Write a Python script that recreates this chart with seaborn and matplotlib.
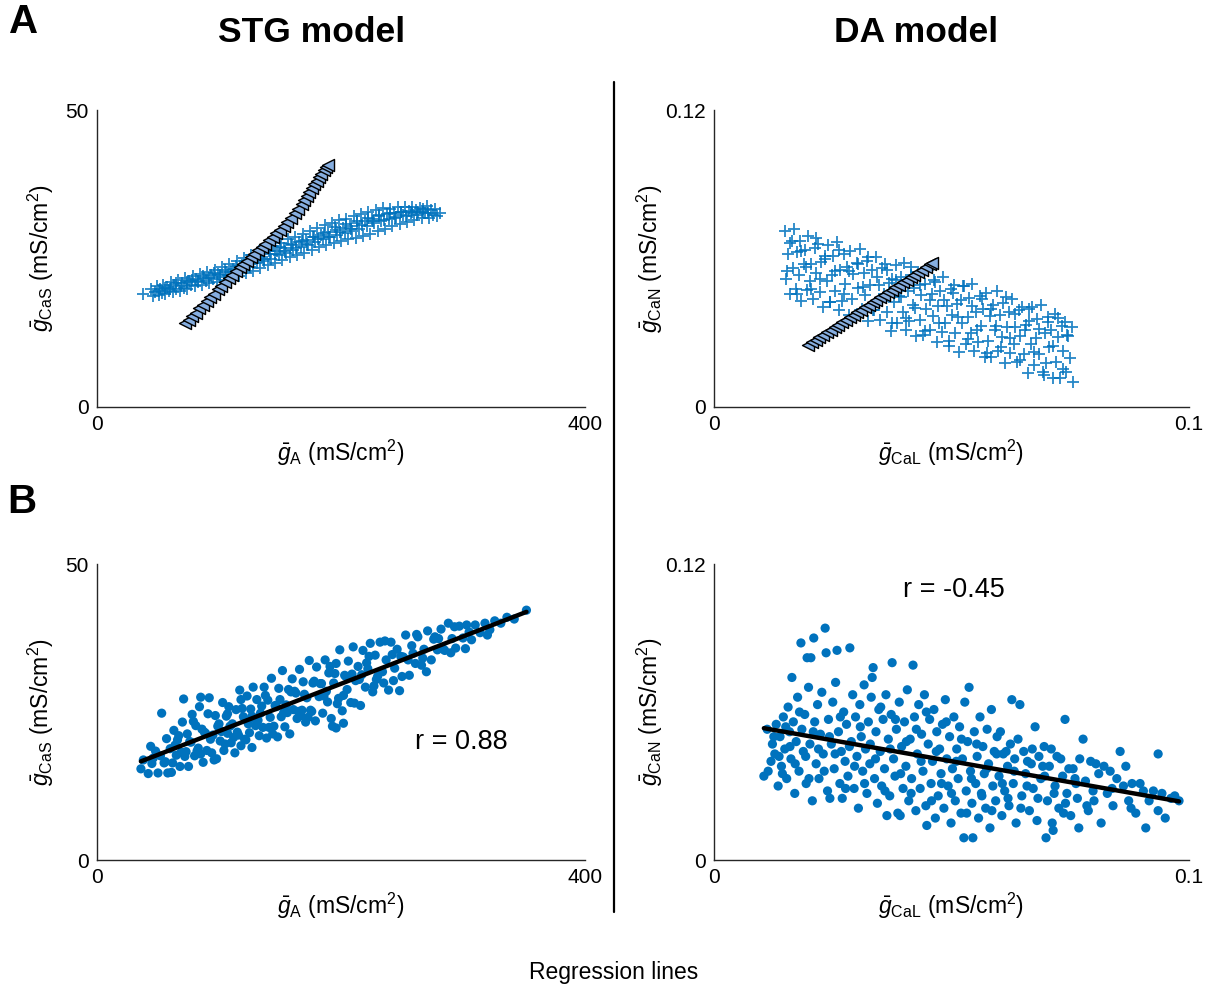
import matplotlib
matplotlib.use("Agg")
import matplotlib.pyplot as plt
import seaborn as sns
from matplotlib.lines import Line2D

# ---------------- data ----------------
# Panel A, STG model: accepted parameter sets (crosses) and degenerate family (triangles)
stg_cross_gA = [38.0, 44.5, 46.0, 47.5, 49.0, 50.5, 52.0, 53.0, 54.5, 56.0, 57.5, 59.0, 60.5, 62.0, 63.5,
                65.0, 66.5, 68.0, 69.5, 71.0, 72.5, 74.0, 75.5, 77.0, 78.5, 80.0, 81.5, 83.0, 84.5, 86.0,
                87.5, 89.0, 90.5, 92.0, 93.5, 95.0, 96.5, 98.0, 99.5, 101.0, 102.5, 104.0, 105.5, 107.0,
                108.5, 110.0, 111.5, 113.0, 114.5, 116.0, 117.5, 119.0, 120.5, 122.0, 123.5, 125.0, 126.5,
                128.0, 129.5, 131.0, 132.5, 134.0, 135.5, 137.0, 138.5, 140.0, 141.5, 143.0, 144.5, 146.0,
                147.5, 149.0, 150.5, 152.0, 153.5, 155.0, 156.5, 158.0, 159.5, 161.0, 162.5, 164.0, 165.5,
                167.0, 168.5, 170.0, 171.5, 173.0, 174.5, 176.0, 177.5, 179.0, 180.5, 182.0, 183.5, 185.0,
                186.5, 188.0, 189.5, 191.0, 192.5, 194.0, 195.5, 197.0, 198.5, 200.0, 201.5, 203.0, 204.5,
                206.0, 207.5, 209.0, 210.5, 212.0, 213.5, 215.0, 216.5, 218.0, 219.5, 221.0, 222.5, 224.0,
                225.5, 227.0, 228.5, 230.0, 231.5, 233.0, 234.5, 236.0, 237.5, 239.0, 240.5, 242.0, 243.5,
                245.0, 246.5, 248.0, 249.5, 251.0, 252.5, 254.0, 255.5, 257.0, 258.5, 260.0, 261.5, 263.0,
                264.5, 266.0, 267.5, 269.0, 270.5, 272.0, 273.5, 275.0, 277.0, 279.0, 281.0,
                51.0, 55.5, 60.0, 64.5, 69.0, 73.5, 78.0, 82.5, 87.0, 91.5, 96.0, 100.5, 105.0, 109.5,
                114.0, 118.5, 123.0, 127.5, 132.0, 136.5, 141.0, 145.5, 150.0, 154.5, 159.0, 163.5, 168.0,
                172.5, 177.0, 181.5, 186.0, 190.5, 195.0, 199.5, 204.0, 208.5, 213.0, 217.5, 222.0, 226.5,
                231.0, 235.5, 240.0, 244.5, 249.0, 253.5, 258.0, 262.5, 267.0, 271.5]
stg_cross_gCaS = [19.0, 19.9, 18.7, 19.4, 20.3, 18.8, 19.9, 19.2, 20.6, 19.1, 20.2, 19.5, 21.0, 19.4, 20.5,
                  19.8, 21.4, 19.6, 20.8, 20.1, 21.7, 19.9, 21.2, 20.5, 22.0, 20.3, 21.6, 21.0, 22.4, 20.5,
                  21.8, 21.2, 22.7, 20.8, 22.2, 21.5, 23.0, 21.1, 22.4, 21.9, 23.5, 21.4, 22.8, 22.2,
                  24.0, 21.8, 23.3, 22.7, 24.6, 22.1, 23.8, 23.2, 25.1, 22.5, 24.3, 23.6, 25.6,
                  22.9, 24.9, 24.2, 26.2, 23.4, 25.3, 24.6, 26.7, 23.9, 25.8, 25.0, 27.1, 24.3,
                  26.3, 25.6, 27.6, 24.8, 26.8, 26.0, 28.2, 25.2, 27.3, 26.5, 28.7, 25.6, 27.7,
                  26.9, 29.2, 26.0, 28.1, 27.3, 29.6, 26.4, 28.6, 27.8, 30.1, 26.9, 29.0, 28.2,
                  30.6, 27.3, 29.5, 28.6, 31.0, 27.6, 29.8, 28.9, 31.4, 27.9, 30.2, 29.3, 31.7,
                  28.2, 30.5, 29.6, 32.1, 28.5, 30.9, 30.0, 32.5, 28.8, 31.3, 30.4, 32.9, 29.2,
                  31.7, 30.9, 33.2, 29.6, 32.1, 31.3, 33.5, 30.0, 32.5, 31.7, 33.4, 30.4, 32.6,
                  32.0, 33.6, 30.8, 32.8, 32.3, 33.7, 31.2, 33.0, 32.6, 33.6, 31.5, 33.1, 32.8,
                  33.5, 31.8, 33.4, 32.6, 33.9, 31.9, 33.1, 32.4, 33.3, 32.2, 32.6,
                  19.6, 20.1, 19.9, 20.9, 20.4, 21.0, 21.4, 21.2, 22.0, 21.8, 22.5, 22.2, 23.0, 22.7,
                  23.8, 23.4, 24.8, 24.3, 25.5, 25.0, 26.2, 25.7, 26.9, 26.3, 27.5, 26.8, 28.0,
                  27.5, 28.7, 28.2, 29.3, 28.7, 30.3, 29.4, 30.8, 30.0, 31.3, 30.6, 31.8, 31.3,
                  32.3, 31.5, 32.6, 31.9, 32.9, 32.2, 32.9, 32.3, 32.8, 32.7]
stg_family_gA = [72.0, 75.0, 78.0, 81.0, 84.0, 87.0, 90.0, 93.0, 96.0, 99.0, 102.0, 105.0, 108.0, 111.0,
                 114.0, 117.0, 120.0, 123.0, 126.0, 129.0, 132.0, 135.0, 138.0, 141.0, 144.0, 147.0, 150.0,
                 153.0, 156.0, 159.0, 162.0, 165.0, 168.0, 170.0, 172.0, 174.0, 176.0, 178.0, 180.0, 182.0,
                 184.0, 186.0, 188.0, 189.3]
stg_family_gCaS = [14.1, 14.7, 15.3, 15.9, 16.6, 17.2, 17.8, 18.5, 19.1, 19.8, 20.4, 21.1, 21.7, 22.3,
                   22.9, 23.5, 24.1, 24.6, 25.2, 25.8, 26.4, 26.9, 27.5, 28.1, 28.7, 29.3, 29.8,
                   30.5, 31.2, 31.9, 32.6, 33.4, 34.1, 34.8, 35.6, 36.2, 36.8, 37.5, 38.1, 38.7,
                   39.3, 39.9, 40.4, 40.7]

# Panel A, DA model
da_cross_gCaL = [0.0150, 0.0152, 0.0155, 0.0159, 0.0161, 0.0166, 0.0168, 0.0172, 0.0175, 0.0179, 0.0182,
                 0.0184, 0.0189, 0.0191, 0.0196, 0.0198, 0.0203, 0.0205, 0.0209, 0.0213, 0.0215, 0.0219,
                 0.0224, 0.0226, 0.0230, 0.0234, 0.0237, 0.0241, 0.0244, 0.0248, 0.0251, 0.0255, 0.0258,
                 0.0263, 0.0265, 0.0269, 0.0273, 0.0276, 0.0279, 0.0284, 0.0286, 0.0290, 0.0293, 0.0297,
                 0.0301, 0.0304, 0.0307, 0.0311, 0.0315, 0.0318, 0.0322, 0.0325, 0.0329, 0.0332, 0.0336,
                 0.0340, 0.0343, 0.0347, 0.0350, 0.0354, 0.0357, 0.0361, 0.0365, 0.0368, 0.0372, 0.0375,
                 0.0379, 0.0383, 0.0386, 0.0390, 0.0393, 0.0397, 0.0400, 0.0404, 0.0408, 0.0411, 0.0415,
                 0.0418, 0.0422, 0.0426, 0.0429, 0.0433, 0.0436, 0.0440, 0.0444, 0.0447, 0.0451, 0.0454,
                 0.0458, 0.0462, 0.0465, 0.0469, 0.0472, 0.0476, 0.0480, 0.0483, 0.0487, 0.0490, 0.0494,
                 0.0498, 0.0501, 0.0505, 0.0508, 0.0512, 0.0516, 0.0519, 0.0523, 0.0526, 0.0530, 0.0534,
                 0.0537, 0.0541, 0.0544, 0.0548, 0.0552, 0.0555, 0.0559, 0.0562, 0.0566, 0.0570, 0.0573,
                 0.0577, 0.0580, 0.0584, 0.0588, 0.0591, 0.0595, 0.0598, 0.0602, 0.0606, 0.0609, 0.0613,
                 0.0616, 0.0620, 0.0624, 0.0627, 0.0631, 0.0634, 0.0638, 0.0642, 0.0645, 0.0649, 0.0652,
                 0.0656, 0.0660, 0.0663, 0.0667, 0.0670, 0.0674, 0.0678, 0.0681, 0.0685, 0.0688, 0.0692,
                 0.0696, 0.0699, 0.0703, 0.0706, 0.0710, 0.0714, 0.0717, 0.0721, 0.0724, 0.0728, 0.0732,
                 0.0735, 0.0739, 0.0742, 0.0746, 0.0750, 0.0753, 0.0756,
                 0.0154, 0.0164, 0.0174, 0.0184, 0.0194, 0.0204, 0.0214, 0.0224, 0.0234, 0.0244, 0.0254,
                 0.0264, 0.0274, 0.0284, 0.0294, 0.0304, 0.0314, 0.0324, 0.0334, 0.0344, 0.0354, 0.0364,
                 0.0374, 0.0384, 0.0394, 0.0404, 0.0414, 0.0424, 0.0434, 0.0444, 0.0454, 0.0464, 0.0474,
                 0.0484, 0.0494, 0.0504, 0.0514, 0.0524, 0.0534, 0.0544, 0.0554, 0.0564, 0.0574, 0.0584,
                 0.0594, 0.0604, 0.0614, 0.0624, 0.0634, 0.0644, 0.0654, 0.0664, 0.0674, 0.0684, 0.0694,
                 0.0704, 0.0714, 0.0724, 0.0734, 0.0744]
da_cross_gCaN = [0.0710, 0.0519, 0.0617, 0.0455, 0.0664, 0.0561, 0.0720, 0.0477, 0.0625, 0.0533, 0.0671,
                 0.0430, 0.0577, 0.0636, 0.0473, 0.0692, 0.0509, 0.0578, 0.0435, 0.0643, 0.0542, 0.0659,
                 0.0466, 0.0585, 0.0403, 0.0600, 0.0509, 0.0656, 0.0425, 0.0532, 0.0610, 0.0468, 0.0666,
                 0.0393, 0.0552, 0.0430, 0.0617, 0.0496, 0.0564, 0.0371, 0.0630, 0.0437, 0.0536, 0.0373,
                 0.0581, 0.0479, 0.0637, 0.0395, 0.0543, 0.0451, 0.0589, 0.0347, 0.0494, 0.0553, 0.0390,
                 0.0608, 0.0426, 0.0494, 0.0352, 0.0560, 0.0458, 0.0576, 0.0383, 0.0501, 0.0309, 0.0517,
                 0.0425, 0.0573, 0.0341, 0.0448, 0.0527, 0.0384, 0.0583, 0.0310, 0.0468, 0.0346, 0.0534,
                 0.0412, 0.0480, 0.0287, 0.0545, 0.0353, 0.0451, 0.0289, 0.0497, 0.0395, 0.0552, 0.0311,
                 0.0458, 0.0366, 0.0504, 0.0262, 0.0410, 0.0468, 0.0305, 0.0524, 0.0341, 0.0409, 0.0267,
                 0.0475, 0.0373, 0.0491, 0.0299, 0.0417, 0.0224, 0.0432, 0.0340, 0.0488, 0.0256, 0.0364,
                 0.0442, 0.0299, 0.0498, 0.0225, 0.0383, 0.0261, 0.0449, 0.0327, 0.0395, 0.0202, 0.0460,
                 0.0268, 0.0366, 0.0204, 0.0412, 0.0310, 0.0467, 0.0226, 0.0373, 0.0281, 0.0419, 0.0177,
                 0.0325, 0.0383, 0.0220, 0.0438, 0.0256, 0.0324, 0.0182, 0.0390, 0.0288, 0.0406, 0.0214,
                 0.0331, 0.0139, 0.0347, 0.0255, 0.0403, 0.0171, 0.0278, 0.0357, 0.0214, 0.0412, 0.0140,
                 0.0298, 0.0176, 0.0364, 0.0242, 0.0310, 0.0117, 0.0375, 0.0183, 0.0281, 0.0119, 0.0327,
                 0.0225, 0.0342, 0.0141, 0.0288, 0.0196, 0.0324, 0.0102,
                 0.0548, 0.0672, 0.0456, 0.0630, 0.0564, 0.0478, 0.0682, 0.0516, 0.0610, 0.0425, 0.0549,
                 0.0633, 0.0457, 0.0551, 0.0365, 0.0579, 0.0483, 0.0607, 0.0391, 0.0526, 0.0430, 0.0554,
                 0.0338, 0.0512, 0.0446, 0.0360, 0.0564, 0.0398, 0.0492, 0.0307, 0.0431, 0.0515, 0.0339,
                 0.0433, 0.0247, 0.0461, 0.0365, 0.0489, 0.0273, 0.0408, 0.0312, 0.0436, 0.0220, 0.0394,
                 0.0328, 0.0242, 0.0446, 0.0280, 0.0374, 0.0189, 0.0313, 0.0397, 0.0221, 0.0315, 0.0129,
                 0.0343, 0.0247, 0.0361, 0.0155, 0.0290]
da_family_gCaL = [0.0198, 0.0206, 0.0214, 0.0222, 0.0230, 0.0238, 0.0246, 0.0254, 0.0262, 0.0270, 0.0278,
                  0.0286, 0.0294, 0.0302, 0.0310, 0.0318, 0.0326, 0.0334, 0.0342, 0.0350, 0.0358, 0.0366,
                  0.0374, 0.0382, 0.0390, 0.0398, 0.0406, 0.0414, 0.0422, 0.0430, 0.0438, 0.0446, 0.0454,
                  0.0459]
da_family_gCaN = [0.0251, 0.0261, 0.0271, 0.0281, 0.0291, 0.0302, 0.0312, 0.0322, 0.0332, 0.0342, 0.0352,
                  0.0363, 0.0373, 0.0383, 0.0393, 0.0403, 0.0413, 0.0423, 0.0434, 0.0444, 0.0454, 0.0464,
                  0.0474, 0.0484, 0.0494, 0.0505, 0.0515, 0.0525, 0.0535, 0.0545, 0.0555, 0.0565, 0.0576,
                  0.0582]

# Panel B, STG model population
stg_pop_gA = [36, 38, 42, 44, 45, 48, 50, 52, 53, 55, 57, 58, 60, 62, 63, 65, 66, 68, 70, 71, 72, 74, 75, 77,
              78, 80, 81, 83, 84, 85, 87, 88, 90, 91, 92, 94, 95, 97, 98, 100, 101, 103, 104, 106, 107, 108,
              110, 111, 113, 114, 116, 117, 118, 120, 121, 123, 124, 126, 127, 128, 130, 131, 133, 134, 136,
              137, 139, 140, 142, 143, 145, 146, 148, 149, 151, 152, 154, 155, 157, 158, 160, 161, 163, 164,
              166, 168, 169, 171, 172, 174, 175, 177, 179, 180, 182, 184, 185, 187, 189, 190, 192, 194, 196,
              197, 199, 201, 203, 205, 206, 208, 210, 212, 214, 216, 218, 220, 222, 224, 226, 228, 230, 232,
              235, 237, 239, 241, 244, 246, 248, 251, 253, 256, 258, 261, 263, 266, 268, 271, 274, 276, 279,
              282, 285, 288, 291, 294, 297, 300, 303, 307, 310, 314, 318, 322, 326, 331, 336, 342, 352,
              46, 56, 64, 69, 76, 82, 86, 93, 99, 105, 109, 115, 119, 125, 129, 135, 141, 147, 153, 159, 165,
              170, 176, 183, 188, 195, 202, 209, 215, 221, 227, 234, 242, 250, 259, 267, 280, 290, 305, 320,
              193, 202, 196,
              61, 67, 73, 79, 85, 89, 96, 102, 107, 112, 118, 122, 127, 132, 138, 144, 150, 156, 162, 167,
              173, 178, 186, 191, 198, 204, 211, 217, 223, 229, 236, 243, 249, 255, 262, 270, 277, 284, 293, 302]
stg_pop_gCaS = [15.4, 16.9, 14.6, 19.2, 16.3, 18.4, 14.7, 17.6, 24.8, 16.4, 20.5, 14.7, 18.8, 16.4, 21.9,
                17.7, 20.3, 15.8, 23.3, 27.2, 17.5, 21.3, 15.8, 19.9, 24.6, 17.6, 22.7, 18.9, 25.9, 27.5,
                16.5, 21.6, 18.5, 24.7, 27.4, 18.1, 21.1, 24.4, 17.1, 23.0, 20.1, 26.6, 18.5, 24.3, 21.4,
                25.9, 19.8, 23.0, 18.1, 25.4, 21.1, 28.7, 19.3, 24.2, 20.4, 27.7, 23.0, 25.5, 19.0, 29.2,
                22.7, 27.1, 21.0, 24.8, 22.4, 29.2, 20.6, 27.0, 24.1, 30.7, 22.6, 26.1, 20.8, 29.0, 24.2,
                32.0, 22.5, 26.2, 28.8, 21.3, 30.6, 25.4, 28.2, 23.9, 32.2, 25.3, 30.1, 23.3, 27.4, 33.7,
                25.3, 29.9, 23.5, 32.6, 27.6, 29.8, 24.8, 33.8, 26.7, 31.6, 23.9, 29.9, 33.2, 26.4, 35.5,
                25.2, 31.2, 28.8, 33.6, 26.6, 36.0, 30.3, 32.7, 26.1, 35.4, 29.2, 32.3, 36.6, 28.4, 34.6,
                31.0, 36.8, 29.9, 33.8, 28.7, 36.8, 32.4, 35.6, 28.6, 34.3, 38.0, 31.2, 36.2, 33.2, 37.7,
                32.9, 35.6, 38.7, 33.8, 37.3, 35.5, 39.0, 35.4, 40.0, 37.4, 35.8, 39.5, 37.5, 39.7, 37.2,
                39.7, 38.4, 40.0, 38.9, 40.4, 40.0, 41.0, 40.7, 42.2,
                17.2, 16.6, 19.4, 18.2, 20.0, 18.4, 22.1, 20.4, 22.6, 19.6, 22.6, 21.6, 25.6, 21.5, 23.9,
                26.0, 22.4, 25.9, 24.9, 28.4, 25.1, 28.0, 25.1, 29.8, 28.5, 31.5, 27.8, 31.4, 30.5, 33.3,
                29.4, 31.8, 34.7, 31.0, 34.9, 34.1, 37.4, 35.0, 38.5, 38.0,
                22.6, 23.1, 22.3,
                14.8, 21.0, 18.3, 23.4, 17.9, 21.4, 16.9, 21.7, 24.7, 20.7, 27.1, 20.3, 24.3, 23.6, 27.8,
                21.3, 27.1, 24.9, 28.5, 24.4, 24.1, 30.2, 27.7, 32.7, 27.3, 31.0, 26.5, 31.3, 34.4, 30.5,
                37.0, 30.3, 34.4, 33.8, 38.1, 31.8, 37.7, 35.6, 39.4, 35.7]

# Panel B, DA model population
da_pop_gCaL = [0.0105, 0.0112, 0.0114, 0.0120, 0.0123, 0.0128, 0.0131, 0.0135, 0.0139, 0.0142, 0.0146,
               0.0149, 0.0153, 0.0156, 0.0159, 0.0162, 0.0164, 0.0167, 0.0170, 0.0173, 0.0176, 0.0179,
               0.0183, 0.0185, 0.0188, 0.0191, 0.0194, 0.0196, 0.0199,
               0.0202, 0.0204, 0.0207, 0.0210, 0.0212, 0.0215, 0.0218, 0.0221, 0.0224, 0.0227, 0.0230,
               0.0234, 0.0236, 0.0239, 0.0241, 0.0244, 0.0247, 0.0250, 0.0253, 0.0256, 0.0259, 0.0262,
               0.0265, 0.0268, 0.0270, 0.0273, 0.0276, 0.0279, 0.0282, 0.0286, 0.0289, 0.0292, 0.0295,
               0.0298,
               0.0301, 0.0304, 0.0307, 0.0310, 0.0313, 0.0316, 0.0319, 0.0322, 0.0325, 0.0328, 0.0331,
               0.0333, 0.0335, 0.0338, 0.0341, 0.0344, 0.0347, 0.0350, 0.0353, 0.0356, 0.0359, 0.0362,
               0.0364, 0.0367, 0.0370, 0.0373, 0.0375, 0.0378, 0.0381, 0.0384, 0.0387, 0.0390, 0.0392,
               0.0395, 0.0398,
               0.0401, 0.0404, 0.0407, 0.0410, 0.0413, 0.0416, 0.0419, 0.0422, 0.0425, 0.0428, 0.0431,
               0.0434, 0.0437, 0.0440, 0.0443, 0.0446, 0.0448, 0.0451, 0.0454, 0.0457, 0.0460, 0.0463,
               0.0466, 0.0469, 0.0472, 0.0475, 0.0478, 0.0481, 0.0484, 0.0487, 0.0490, 0.0493, 0.0496,
               0.0499,
               0.0502, 0.0505, 0.0508, 0.0511, 0.0514, 0.0517, 0.0520, 0.0523, 0.0526, 0.0528, 0.0531,
               0.0534, 0.0537, 0.0540, 0.0543, 0.0545, 0.0548, 0.0551, 0.0554, 0.0557, 0.0560, 0.0563,
               0.0566, 0.0569, 0.0572, 0.0575, 0.0578, 0.0581, 0.0584, 0.0587, 0.0590, 0.0593, 0.0596,
               0.0600, 0.0603, 0.0606, 0.0609, 0.0612, 0.0615, 0.0618, 0.0621, 0.0624, 0.0627, 0.0630,
               0.0633, 0.0636, 0.0640, 0.0644, 0.0648, 0.0652, 0.0656, 0.0660, 0.0664, 0.0668, 0.0672,
               0.0676, 0.0680, 0.0684, 0.0688, 0.0692, 0.0695, 0.0699, 0.0702,
               0.0706, 0.0710, 0.0712, 0.0714, 0.0718, 0.0722, 0.0726, 0.0730, 0.0734, 0.0736, 0.0739,
               0.0743, 0.0747, 0.0751, 0.0756, 0.0760, 0.0765, 0.0768, 0.0770, 0.0777, 0.0782, 0.0785,
               0.0788, 0.0793, 0.0798,
               0.0804, 0.0810, 0.0815, 0.0821, 0.0828, 0.0834, 0.0840, 0.0848, 0.0855, 0.0862, 0.0867,
               0.0873, 0.0880, 0.0888, 0.0897, 0.0904, 0.0909, 0.0916, 0.0925, 0.0935, 0.0935, 0.0943,
               0.0950, 0.0962, 0.0970, 0.0979,
               0.0126, 0.0137, 0.0144, 0.0151, 0.0160, 0.0171, 0.0180, 0.0193, 0.0200, 0.0209, 0.0220,
               0.0232, 0.0243, 0.0255, 0.0266, 0.0277, 0.0285, 0.0296, 0.0308, 0.0317, 0.0329, 0.0340,
               0.0351, 0.0360, 0.0371, 0.0382, 0.0393, 0.0405, 0.0415, 0.0426, 0.0436, 0.0447, 0.0458,
               0.0468, 0.0479, 0.0489, 0.0500, 0.0510, 0.0521, 0.0532, 0.0542, 0.0553, 0.0564, 0.0574,
               0.0585, 0.0595, 0.0607, 0.0619, 0.0632, 0.0646, 0.0659, 0.0670, 0.0682, 0.0696, 0.0716,
               0.0740, 0.0762, 0.0800, 0.0838, 0.0878]
da_pop_gCaN = [0.034, 0.053, 0.036, 0.040, 0.047, 0.043, 0.055, 0.030, 0.050, 0.038, 0.058,
               0.045, 0.033, 0.062, 0.052, 0.041, 0.074, 0.056, 0.027, 0.048, 0.066, 0.036,
               0.088, 0.053, 0.044, 0.059, 0.031, 0.082, 0.070,
               0.047, 0.082, 0.024, 0.090, 0.056, 0.039, 0.063, 0.033, 0.051, 0.068, 0.043,
               0.094, 0.084, 0.028, 0.057, 0.025, 0.047, 0.064, 0.037, 0.072, 0.085, 0.052,
               0.031, 0.044, 0.025, 0.060, 0.040, 0.055, 0.034, 0.086, 0.048, 0.067, 0.029,
               0.058,
               0.042, 0.021, 0.063, 0.050, 0.036, 0.071, 0.045, 0.027, 0.056, 0.039, 0.066,
               0.074, 0.078, 0.033, 0.052, 0.023, 0.061, 0.044, 0.030, 0.057, 0.037, 0.067,
               0.018, 0.049, 0.026, 0.059, 0.080, 0.041, 0.034, 0.053, 0.019, 0.064, 0.018,
               0.046, 0.029,
               0.056, 0.038, 0.069, 0.024, 0.049, 0.033, 0.079, 0.058, 0.020, 0.043, 0.063,
               0.029, 0.051, 0.036, 0.067, 0.022, 0.014, 0.047, 0.057, 0.031, 0.040, 0.061,
               0.017, 0.052, 0.026, 0.045, 0.035, 0.055, 0.021, 0.065, 0.041, 0.030, 0.050,
               0.015,
               0.037, 0.058, 0.024, 0.045, 0.033, 0.054, 0.019, 0.041, 0.009, 0.064, 0.028,
               0.048, 0.070, 0.036, 0.023, 0.009, 0.052, 0.031, 0.042, 0.017, 0.058, 0.027,
               0.046, 0.035, 0.021, 0.053, 0.039, 0.013, 0.061, 0.030, 0.044, 0.024, 0.050,
               0.034, 0.052, 0.018, 0.043, 0.028, 0.044, 0.038, 0.022, 0.047, 0.065, 0.031,
               0.041, 0.015, 0.049, 0.063, 0.026, 0.044, 0.035, 0.040, 0.020, 0.039, 0.029,
               0.054, 0.016, 0.042, 0.033, 0.038, 0.046, 0.009, 0.024,
               0.038, 0.045, 0.015, 0.012, 0.030, 0.042, 0.021, 0.041, 0.034, 0.019, 0.057,
               0.027, 0.037, 0.018, 0.037, 0.033, 0.025, 0.013, 0.041, 0.049, 0.032, 0.022,
               0.020, 0.040, 0.028,
               0.039, 0.035, 0.015, 0.038, 0.027, 0.036, 0.022, 0.033, 0.044, 0.030, 0.038,
               0.024, 0.031, 0.019, 0.031, 0.028, 0.013, 0.024, 0.028, 0.043, 0.020, 0.027,
               0.017, 0.025, 0.026, 0.024,
               0.050, 0.042, 0.035, 0.054, 0.046, 0.039, 0.060, 0.042, 0.033, 0.052, 0.045,
               0.036, 0.050, 0.043, 0.058, 0.029, 0.046, 0.038, 0.054, 0.031, 0.047, 0.041,
               0.062, 0.028, 0.045, 0.057, 0.035, 0.048, 0.027, 0.053, 0.040, 0.060, 0.024,
               0.044, 0.031, 0.056, 0.027, 0.040, 0.049, 0.019, 0.033, 0.047, 0.026, 0.037,
               0.020, 0.043, 0.031, 0.025, 0.036, 0.021, 0.030, 0.045, 0.025, 0.034, 0.027,
               0.023, 0.031, 0.024, 0.029, 0.021]

# axis labels and tick labels
stg_xlabel = r"$\bar{g}_{\mathrm{A}}$ (mS/cm$^{2}$)"
stg_ylabel = r"$\bar{g}_{\mathrm{CaS}}$ (mS/cm$^{2}$)"
da_xlabel = r"$\bar{g}_{\mathrm{CaL}}$ (mS/cm$^{2}$)"
da_ylabel = r"$\bar{g}_{\mathrm{CaN}}$ (mS/cm$^{2}$)"
stg_xticks, stg_xticklabels = [0, 400], ["0", "400"]
stg_yticks, stg_yticklabels = [0, 50], ["0", "50"]
da_xticks, da_xticklabels = [0, 0.1], ["0", "0.1"]
da_yticks, da_yticklabels = [0, 0.12], ["0", "0.12"]
r_stg, r_da = 0.88, -0.45

# ---------------- style ----------------
sns.set_style("white")
plt.rcParams["font.family"] = ["Liberation Sans", "DejaVu Sans"]
plt.rcParams["mathtext.fontset"] = "custom"
plt.rcParams["mathtext.rm"] = "Liberation Sans"
plt.rcParams["mathtext.it"] = "Liberation Sans:italic"
plt.rcParams["mathtext.bf"] = "Liberation Sans:bold"
plt.rcParams["text.color"] = "black"
plt.rcParams["axes.labelcolor"] = "black"

BLUE = "#0072BD"
TRI_FILL = "#86aee0"
W, H = 1212, 994
fig = plt.figure(figsize=(W / 100, H / 100), dpi=100)


def axes_px(l, t, r, b):
    return fig.add_axes([l / W, 1 - b / H, (r - l) / W, (b - t) / H])


def style(ax, xt, xtl, yt, ytl, xlab, ylab, ylab_x):
    ax.set_xlim(xt[0], xt[1])
    ax.set_ylim(yt[0], yt[1])
    ax.set_xticks(xt)
    ax.set_xticklabels(xtl)
    ax.set_yticks(yt)
    ax.set_yticklabels(ytl)
    for s in ["top", "right"]:
        ax.spines[s].set_visible(False)
    for s in ["left", "bottom"]:
        ax.spines[s].set_color("#262626")
        ax.spines[s].set_linewidth(1.0)
    ax.tick_params(direction="in", length=3, width=0.8, color="#262626",
                   labelsize=15, pad=6, labelcolor="black")
    ax.set_xlabel(xlab, fontsize=16.5, color="black")
    ax.set_ylabel(ylab, fontsize=16.5, color="black")
    ax.xaxis.set_label_coords(0.5, -0.105)
    ax.yaxis.set_label_coords(ylab_x, 0.5)


ax_tl = axes_px(97, 110, 585, 407)
ax_tr = axes_px(714, 110, 1189, 407)
ax_bl = axes_px(97, 564, 585, 860)
ax_br = axes_px(714, 564, 1189, 860)

# Panel A
sns.scatterplot(x=stg_cross_gA, y=stg_cross_gCaS, marker="+", s=70, color=BLUE,
                linewidth=1.3, alpha=0.85, ax=ax_tl, zorder=2)
sns.scatterplot(x=stg_family_gA, y=stg_family_gCaS, marker="<", s=75, color=TRI_FILL,
                edgecolor="black", linewidth=1.0, ax=ax_tl, zorder=3)
sns.scatterplot(x=da_cross_gCaL, y=da_cross_gCaN, marker="+", s=70, color=BLUE,
                linewidth=1.3, alpha=0.85, ax=ax_tr, zorder=2)
sns.scatterplot(x=da_family_gCaL, y=da_family_gCaN, marker="<", s=75, color=TRI_FILL,
                edgecolor="black", linewidth=1.0, ax=ax_tr, zorder=3)

# Panel B
sns.scatterplot(x=stg_pop_gA, y=stg_pop_gCaS, s=44, color=BLUE, edgecolor="none", ax=ax_bl, zorder=2)
sns.regplot(x=stg_pop_gA, y=stg_pop_gCaS, scatter=False, ci=None, truncate=True, color="black",
            line_kws={"linewidth": 3.2, "zorder": 3}, ax=ax_bl)
sns.scatterplot(x=da_pop_gCaL, y=da_pop_gCaN, s=44, color=BLUE, edgecolor="none", ax=ax_br, zorder=2)
sns.regplot(x=da_pop_gCaL, y=da_pop_gCaN, scatter=False, ci=None, truncate=True, color="black",
            line_kws={"linewidth": 3.2, "zorder": 3}, ax=ax_br)

ax_bl.text(299, 19.9, f"r = {r_stg:.2f}", fontsize=19.5, ha="center", va="center", color="black")
ax_br.text(0.0505, 0.1095, f"r = {r_da:.2f}", fontsize=19.5, ha="center", va="center", color="black")

style(ax_tl, stg_xticks, stg_xticklabels, stg_yticks, stg_yticklabels, stg_xlabel, stg_ylabel, -0.085)
style(ax_bl, stg_xticks, stg_xticklabels, stg_yticks, stg_yticklabels, stg_xlabel, stg_ylabel, -0.085)
style(ax_tr, da_xticks, da_xticklabels, da_yticks, da_yticklabels, da_xlabel, da_ylabel, -0.103)
style(ax_br, da_xticks, da_xticklabels, da_yticks, da_yticklabels, da_xlabel, da_ylabel, -0.103)

# titles, panel letters, divider, caption
fig.text(312 / W, 1 - 33 / H, "STG model", fontsize=25.5, fontweight="bold", ha="center", va="center")
fig.text(916 / W, 1 - 33 / H, "DA model", fontsize=25.5, fontweight="bold", ha="center", va="center")
fig.text(24 / W, 1 - 22 / H, "A", fontsize=29, fontweight="bold", ha="center", va="center")
fig.text(22 / W, 1 - 502 / H, "B", fontsize=29, fontweight="bold", ha="center", va="center")
fig.add_artist(Line2D([614 / W, 614 / W], [1 - 82 / H, 1 - 912 / H], color="black", linewidth=1.6,
                      transform=fig.transFigure))
fig.text(614 / W, 1 - 973 / H, "Regression lines", fontsize=16.5, ha="center", va="center")

fig.savefig("out.png", dpi=100)
